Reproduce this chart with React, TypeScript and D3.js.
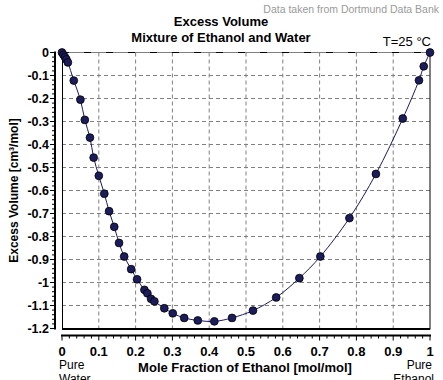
import React from "react";
import * as d3 from "d3";

const xValues = [0, 0.004, 0.008, 0.012, 0.016, 0.032, 0.05, 0.062, 0.076, 0.086, 0.1, 0.115, 0.128, 0.142, 0.155, 0.169, 0.188, 0.204, 0.224, 0.232, 0.242, 0.251, 0.278, 0.301, 0.332, 0.369, 0.414, 0.462, 0.519, 0.582, 0.645, 0.702, 0.781, 0.853, 0.926, 0.97, 0.983, 1.0];
const yValues = [0, -0.01, -0.02, -0.03, -0.043, -0.122, -0.205, -0.293, -0.37, -0.457, -0.536, -0.614, -0.69, -0.758, -0.828, -0.887, -0.942, -0.986, -1.032, -1.047, -1.071, -1.082, -1.112, -1.134, -1.154, -1.165, -1.169, -1.154, -1.122, -1.065, -0.981, -0.887, -0.72, -0.528, -0.287, -0.121, -0.06, 0];
const xTicks = [0, 0.1, 0.2, 0.3, 0.4, 0.5, 0.6, 0.7, 0.8, 0.9, 1];
const yTicks = [0, -0.1, -0.2, -0.3, -0.4, -0.5, -0.6, -0.7, -0.8, -0.9, -1, -1.1, -1.2];

const W = 443, H = 380;
const L = 62, R = 430, T = 52.5, B = 328.5;

export default function App() {
  const x = d3.scaleLinear().domain([0, 1]).range([L, R]);
  const y = d3.scaleLinear().domain([0, -1.2]).range([T, B]);
  const pts = xValues.map((v, i) => [v, yValues[i]] as [number, number]);
  const line = d3.line<[number, number]>().x(d => x(d[0])).y(d => y(d[1])).curve(d3.curveCatmullRom.alpha(0.5));
  const xMinor = d3.range(0, 51).map(i => i / 50);
  const yMinor = d3.range(0, 61).map(i => -i / 50);
  const font = "Arial, 'Liberation Sans', sans-serif";
  const axisY = 335.5;
  const axisX = 55;
  return (
    <svg width={W} height={H} style={{ position: "absolute", left: 0, top: 0, background: "#fff" }} fontFamily={font}>
      <rect x={0} y={0} width={W} height={H} fill="#fff" />
      <text x={439} y={13} textAnchor="end" fontSize={10.5} fill="#9a9a9a">Data taken from Dortmund Data Bank</text>
      <text x={221} y={26} textAnchor="middle" fontSize={13} fontWeight="bold" fill="#000">Excess Volume</text>
      <text x={221} y={42} textAnchor="middle" fontSize={13} fontWeight="bold" fill="#000">Mixture of Ethanol and Water</text>
      <text x={431} y={46} textAnchor="end" fontSize={13} fill="#000">T=25 °C</text>
      {/* grid */}
      {xTicks.slice(1, -1).map(t => (
        <line key={"gx" + t} x1={x(t)} x2={x(t)} y1={T} y2={B} stroke="#808080" strokeDasharray="4,3" />
      ))}
      {yTicks.slice(1, -1).map(t => (
        <line key={"gy" + t} x1={L} x2={R} y1={y(t)} y2={y(t)} stroke="#808080" strokeDasharray="4,3" />
      ))}
      {/* box */}
      <line x1={L} x2={R} y1={T} y2={T} stroke="#808080" />
      <line x1={L} x2={R} y1={T} y2={T} stroke="#000" strokeDasharray="7,15" />
      <line x1={L + 0.5} x2={L + 0.5} y1={T} y2={B} stroke="#000" />
      <line x1={R} x2={R} y1={T} y2={B + 1} stroke="#000" />
      <line x1={L} x2={R} y1={B + 0.5} y2={B + 0.5} stroke="#000" strokeWidth={2} />
      {/* y axis */}
      <line x1={axisX} x2={axisX} y1={T - 1} y2={B + 1} stroke="#000" strokeWidth={2} />
      {yMinor.map((t, i) => (
        <line key={"ym" + i} x1={axisX - (i % 5 === 0 ? 5 : 3)} x2={axisX} y1={y(t)} y2={y(t)} stroke="#000" />
      ))}
      {yTicks.map(t => (
        <text key={"yt" + t} x={49} y={y(t) + 4.5} textAnchor="end" fontSize={12.5} fontWeight="bold" fill="#000">{t === 0 ? "0" : String(t)}</text>
      ))}
      <text transform={`translate(18,${(T + B) / 2}) rotate(-90)`} textAnchor="middle" fontSize={12} fontWeight="bold" fill="#000">Excess Volume [cm³/mol]</text>
      {/* x axis */}
      <line x1={L - 1} x2={R + 1} y1={axisY} y2={axisY} stroke="#000" strokeWidth={2} />
      {xMinor.map((t, i) => (
        <line key={"xm" + i} x1={x(t)} x2={x(t)} y1={axisY} y2={axisY + (i % 5 === 0 ? 5 : 3)} stroke="#000" />
      ))}
      {xTicks.map(t => (
        <text key={"xt" + t} x={x(t)} y={356} textAnchor="middle" fontSize={13} fontWeight="bold" fill="#000">{String(t)}</text>
      ))}
      <text x={245} y={372} textAnchor="middle" fontSize={13} fontWeight="bold" fill="#000">Mole Fraction of Ethanol [mol/mol]</text>
      <text x={59} y={369} fontSize={12} fill="#000">Pure</text>
      <text x={59} y={383} fontSize={12} fill="#000">Water</text>
      <text x={432} y={369} textAnchor="end" fontSize={12} fill="#000">Pure</text>
      <text x={434} y={383} textAnchor="end" fontSize={12} fill="#000">Ethanol</text>
      {/* series */}
      <path d={line(pts) || ""} fill="none" stroke="#1a1a6e" strokeWidth={1} />
      {pts.map((p, i) => (
        <circle key={"p" + i} cx={x(p[0])} cy={y(p[1])} r={3.9} fill="#1c1c5c" stroke="#000" strokeWidth={0.8} />
      ))}
    </svg>
  );
}
